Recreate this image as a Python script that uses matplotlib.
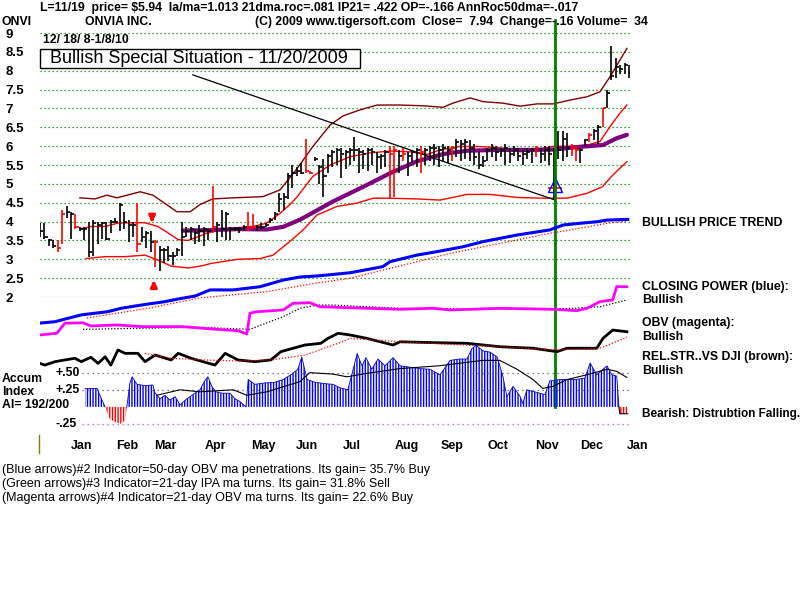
import numpy as np
import matplotlib
matplotlib.use('Agg')
import matplotlib.pyplot as plt
from matplotlib.transforms import blended_transform_factory
from matplotlib.patches import Rectangle
from matplotlib.lines import Line2D

plt.rcParams['font.family'] = ['Liberation Sans', 'DejaVu Sans']
plt.rcParams['hatch.linewidth'] = 1.0

# ---------------- price bars (one bar per two sessions) ----------------
hi = [3.95, 3.95, 3.55, 3.5, 3.5, 4.3, 4.4, 4.25, 4.2, 3.85,
      3.85, 4.0, 4.05, 4.0, 4.0, 4.0, 4.05, 4.1, 4.5, 4.25,
      4.05, 4.0, 4.5, 3.85, 3.75, 3.75, 3.5, 3.35, 3.3, 3.35,
      3.2, 3.3, 4.0, 3.85, 3.85, 3.8, 3.9, 3.85, 3.8, 4.95,
      4.0, 4.3, 4.25, 3.85, 3.85, 3.85, 3.9, 4.25, 4.2, 3.9,
      3.95, 3.95, 4.1, 4.25, 4.75, 4.75, 5.3, 5.5, 5.45, 5.55,
      6.2, 5.35, 5.7, 5.5, 5.65, 5.8, 5.9, 5.95, 5.95, 5.9,
      5.95, 6.25, 5.95, 5.9, 5.95, 5.95, 5.85, 5.8, 5.9, 6.0,
      6.0, 5.9, 5.95, 5.85, 5.9, 5.95, 6.0, 5.95, 6.0, 6.05,
      6.0, 6.05, 6.0, 6.0, 6.2, 6.15, 6.2, 6.15, 6.05, 5.85,
      5.75, 5.95, 6.05, 6.0, 5.95, 6.05, 5.95, 6.0, 5.95, 5.9,
      5.95, 5.95, 6.0, 5.95, 6.0, 6.0, 5.95, 6.4, 6.4, 6.35,
      6.05, 6.0, 5.95, 6.2, 6.35, 6.45, 6.55, 7.0, 7.5, 8.65,
      8.35, 8.15, 8.2, 8.15]
lo = [3.6, 3.55, 3.35, 3.3, 3.2, 3.4, 4.1, 3.55, 3.8, 3.75,
      3.5, 3.05, 3.1, 3.4, 3.55, 3.5, 3.7, 3.95, 3.75, 3.8,
      3.45, 3.6, 3.2, 3.45, 3.3, 3.2, 2.8, 2.68, 2.9, 2.95,
      2.85, 3.1, 3.1, 3.6, 3.5, 3.4, 3.45, 3.35, 3.5, 3.7,
      3.45, 3.6, 3.5, 3.5, 3.75, 3.7, 3.75, 3.75, 3.8, 3.75,
      3.8, 3.85, 3.95, 4.05, 4.25, 4.3, 4.6, 4.9, 5.2, 5.25,
      5.3, 5.25, 5.6, 5.0, 4.65, 5.3, 5.45, 5.5, 5.15, 5.4,
      5.5, 5.6, 5.3, 5.4, 5.35, 5.5, 5.3, 5.4, 5.45, 4.6,
      4.65, 5.3, 5.6, 5.2, 5.55, 5.45, 5.3, 5.5, 5.6, 5.5,
      5.45, 5.6, 5.55, 5.6, 5.7, 5.6, 5.65, 5.6, 5.5, 5.4,
      5.45, 5.6, 5.7, 5.6, 5.7, 5.5, 5.55, 5.75, 5.6, 5.5,
      5.65, 5.55, 5.7, 5.55, 5.6, 5.5, 4.57, 5.65, 5.6, 5.7,
      5.75, 5.6, 5.55, 6.0, 6.1, 6.15, 6.05, 6.5, 7.0, 7.75,
      7.8, 7.9, 7.9, 7.8]
cl = [3.75, 3.6, 3.5, 3.35, 3.3, 4.2, 4.25, 4.2, 3.85, 3.8,
      3.8, 3.2, 3.95, 3.9, 3.95, 3.55, 4.0, 4.0, 4.45, 4.0,
      3.9, 3.9, 3.4, 3.6, 3.7, 3.45, 3.45, 3.25, 3.25, 3.1,
      3.1, 3.25, 3.6, 3.75, 3.8, 3.7, 3.75, 3.8, 3.75, 3.85,
      3.9, 3.8, 4.2, 3.8, 3.8, 3.8, 3.85, 3.85, 3.85, 3.85,
      3.85, 3.9, 4.05, 4.2, 4.6, 4.65, 5.2, 5.3, 5.35, 5.3,
      5.35, 5.3, 5.65, 5.45, 5.2, 5.75, 5.85, 5.9, 5.8, 5.85,
      5.9, 5.9, 5.85, 5.8, 5.9, 5.85, 5.7, 5.75, 5.85, 5.8,
      5.9, 5.75, 5.8, 5.75, 5.85, 5.9, 5.85, 5.9, 5.95, 5.95,
      5.9, 5.95, 5.9, 5.95, 6.1, 6.05, 6.1, 5.95, 5.7, 5.5,
      5.6, 5.9, 5.95, 5.85, 5.9, 5.95, 5.8, 5.9, 5.75, 5.8,
      5.85, 5.9, 5.95, 5.8, 5.9, 5.8, 5.9, 5.9, 6.2, 5.95,
      5.95, 5.9, 5.9, 6.15, 6.3, 6.4, 6.5, 7.0, 7.4, 7.85,
      8.1, 8.05, 8.15, 7.94]
red_bars = [4, 5, 8, 22, 26, 39, 47, 48, 60, 61, 79, 80, 82, 86, 93, 112,
            120, 121, 124, 127]

# ---------------- bands / moving averages (bar-index, price) ----------------
upper_k = [9, 12.4, 15.1, 17.4, 22.6, 25.5, 28.7, 30.9, 33.9, 36.1, 39, 43.6,
           50.3, 54.2, 58, 61.6, 65.5, 68.4, 72.2, 76.1, 81.3, 86.5, 91, 93.2,
           97.1, 100, 104.5, 108.4, 112.2, 115.8, 119.6, 123.5, 126.4, 128.7,
           130.9, 132.5]
upper_v = [4.63, 4.6, 4.7, 4.63, 4.79, 4.7, 4.44, 4.26, 4.26, 4.45, 4.6, 4.63,
           4.66, 4.84, 5.4, 5.99, 6.56, 6.8, 6.96, 7.09, 7.09, 7.07, 7.03, 7.14,
           7.28, 7.18, 7.14, 7.06, 7.12, 7.12, 7.22, 7.31, 7.44, 7.84, 8.28, 8.59]
ma21_k = [9, 11.5, 14.7, 17.6, 21.4, 23.7, 26.6, 28.9, 31.2, 33.4, 35.7, 37.9,
          40.9, 44.7, 48.5, 51.2, 54.2, 56.4, 58, 61.6, 65.5, 70, 74.5, 79,
          83.5, 87.4, 90.3, 94.8, 99.3, 104.5, 108.4, 112.2, 115.8, 119.6,
          123.5, 126.4, 128.7, 130.9, 132.5]
ma21_v = [3.8, 3.87, 3.87, 3.96, 3.97, 3.97, 3.87, 3.7, 3.52, 3.5, 3.6, 3.7,
          3.8, 3.84, 3.88, 3.96, 4.22, 4.45, 4.65, 5.2, 5.5, 5.72, 5.82, 5.87,
          5.85, 5.78, 5.9, 5.99, 5.99, 5.95, 5.85, 5.92, 5.99, 6.0, 6.03, 6.12,
          6.52, 6.87, 7.09]
lower_k = [10.4, 14.7, 19.2, 23.7, 26.6, 29.6, 33.4, 36.3, 38.6, 44.7, 49.7,
           52.6, 56.4, 59.4, 62.5, 67, 71.6, 75.2, 79, 85.1, 90.3, 96.4, 101.6,
           107.7, 113.5, 119, 123.5, 126.9, 129.3, 132.5]
lower_v = [3.02, 3.07, 3.07, 3.11, 2.98, 2.82, 2.77, 2.82, 2.89, 3.0, 3.02,
           3.11, 3.47, 3.78, 4.17, 4.4, 4.49, 4.62, 4.62, 4.6, 4.57, 4.72, 4.72,
           4.64, 4.62, 4.62, 4.75, 4.92, 5.23, 5.59]
ma50_k = [32.3, 37.2, 44.7, 51.2, 54.9, 58.7, 66.1, 73.8, 79, 85.1, 91, 96.4,
          103.8, 111.3, 115.8, 121.9, 127.1, 130.2, 132.5]
ma50_v = [3.76, 3.77, 3.8, 3.79, 3.86, 4.05, 4.53, 4.97, 5.28, 5.6, 5.79, 5.88,
          5.9, 5.9, 5.91, 5.98, 6.03, 6.21, 6.3]
trend_k = [34.5, 116.3]
trend_v = [7.89, 4.57]
signal_k = 116.3          # 11/20/2009 signal
tri_price = 4.97
sell_arrow = (25.3, 4.17, 3.9)
buy_arrow = (25.7, 2.2, 2.52)

# ---------------- indicator lines (relative scale 0-100) ----------------
pt_k = [0, 3.4, 6.3, 9.3, 12.4, 15.3, 18.3, 21.4, 24.4, 28.2, 31.2, 35, 38.4,
        43.6, 49.7, 54.9, 58.7, 62.5, 70, 77.4, 79, 85.1, 89.6, 95.5, 100,
        107.7, 115.1, 118.1, 121.9, 125.7, 128, 132.7]
pt_v = [27.6, 28.4, 30.4, 32.4, 33.4, 34.3, 36.3, 37.6, 38.8, 40.2, 41.8, 43.5,
        47.1, 47.1, 49, 52.9, 54.7, 55.3, 57.2, 60.8, 63.7, 67.6, 69.6, 72.5,
        75.5, 79.4, 82.4, 85.3, 86.3, 87.2, 88.2, 88.6]
ptma_k = [10.6, 24.8, 36.1, 51.2, 62.5, 70, 77.4, 85.1, 92.6, 100, 107.7, 115.1,
          121.9, 128, 132.5]
ptma_v = [30.6, 36.5, 42.4, 46.1, 51.2, 53.9, 58.8, 63.7, 68.6, 72.5, 76.5,
          80.4, 83.4, 86.3, 87.6]
cp_k = [0, 3.8, 5.6, 9.7, 11.5, 17.4, 23.3, 32.3, 40, 44.7, 46.7, 47.4, 49,
        54.9, 57.1, 60.9, 63.2, 73.8, 81.3, 88.7, 92.6, 103.8, 115.8, 121.2,
        123.5, 126.4, 129.3, 130.2, 132.5]
cp_v = [20.6, 21.6, 27.5, 27.8, 25.9, 26.5, 25.5, 25.5, 23.9, 23.1, 21.2, 33.4,
        34.3, 35.3, 39.2, 39.6, 37.2, 36.3, 35.7, 36.3, 35.3, 36.3, 35.7, 34.9,
        36.3, 40.2, 41.2, 49, 49]
cpma_k = [9.7, 21, 36.1, 47.4, 54.9, 58.7, 62.5, 66.1, 81.3, 115.8, 126.4, 132.5]
cpma_v = [23.9, 24.5, 25.1, 23.9, 31.4, 36.3, 38.2, 38.2, 36.3, 35.7, 37.2, 41.2]
rs_k = [0, 1.1, 3.4, 5.6, 7.9, 9.3, 11.5, 13.1, 14.7, 16, 17.6, 19.2, 22.1,
        23.7, 26, 29.6, 31.2, 34.1, 39.5, 41.8, 44.7, 48.5, 52.1, 54.4, 59.8,
        63.4, 65, 67.3, 70, 73.8, 79.7, 81.3, 88.7, 96.4, 103.8, 111.3, 116.7,
        119, 125.7, 127.1, 129.3, 132.5]
rs_v = [3.9, 2.9, 4.9, 5.9, 6.9, 4.9, 7.5, 3.9, 7.8, 2.9, 11.8, 9.8, 9.8, 4.9,
        8.8, 5.9, 9.8, 6.9, 2.9, 9.8, 5.9, 4.9, 5.9, 10.8, 14.7, 15.7, 18.6,
        21.6, 20.6, 18.6, 14.7, 16.6, 16.1, 15.7, 13.7, 12.8, 10.8, 12.8, 12.8,
        18.6, 23.5, 22.5]
rsma_k = [23.7, 29.6, 37.2, 44.7, 52.1, 59.8, 67.3, 70, 81.3, 103.8, 116.7,
          126.4, 132.5]
rsma_v = [9.8, 6.9, 5.9, 5.3, 5.9, 8.8, 15.7, 18.6, 16.6, 13.7, 11.8, 12.8, 19.2]

# ---------------- accumulation index ----------------
ai_k = [10.2, 12.9, 13.5, 14.7, 15.8, 16.9, 18.1, 19.2, 19.6, 20.3, 20.8, 21.9,
        23.7, 25.5, 26, 27.1, 28.2, 29.3, 30.5, 31.6, 33.2, 35, 36.1, 37.2,
        37.9, 38.8, 39.7, 41.1, 42.9, 44, 45.1, 46.5, 47, 48.5, 50.8, 53, 54.9,
        56.9, 58.2, 59.1, 60.3, 62.1, 64.3, 66.1, 67.7, 69.5, 70.7, 71.6, 72.7,
        73.6, 74.9, 76.3, 77.9, 79.7, 81.3, 83.5, 85.8, 88, 90.3, 92.6, 94.8,
        96.4, 97.5, 98.4, 100, 101.6, 103.2, 104.5, 105.4, 106.8, 108.4, 109,
        109.9, 111.7, 114, 115.1, 117.4, 120.8, 123, 124.2, 125.7, 127.1, 128,
        129.1, 130.2, 130.7, 130.9, 132.7]
ai_v = [0.27, 0.27, 0.17, 0.0, -0.18, -0.22, -0.25, -0.2, 0.0, 0.35, 0.44, 0.33,
        0.31, 0.32, 0.2, 0.12, 0.17, 0.1, 0.15, 0.03, 0.12, 0.2, 0.25, 0.38,
        0.44, 0.3, 0.22, 0.2, 0.2, 0.12, 0.08, 0.0, 0.4, 0.33, 0.35, 0.36, 0.4,
        0.48, 0.55, 0.73, 0.4, 0.36, 0.34, 0.33, 0.28, 0.25, 0.55, 0.78, 0.6,
        0.72, 0.55, 0.7, 0.6, 0.72, 0.6, 0.58, 0.56, 0.55, 0.47, 0.68, 0.7,
        0.7, 0.85, 0.9, 0.82, 0.8, 0.73, 0.45, 0.15, 0.3, 0.15, 0.05, 0.25,
        0.22, 0.18, 0.38, 0.4, 0.4, 0.42, 0.64, 0.47, 0.55, 0.6, 0.47, 0.45,
        0.0, -0.1, -0.1]
aima_k = [26.4, 31.6, 36.1, 43.6, 46.7, 51.2, 58.7, 60.9, 66.1, 69.3, 73.8,
          81.3, 90, 100, 103.8, 107.7, 111.3, 113.5, 115.8, 119, 123.5, 128,
          130.2, 132.5]
aima_v = [0.17, 0.25, 0.22, 0.25, 0.17, 0.22, 0.37, 0.5, 0.48, 0.44, 0.49,
          0.56, 0.6, 0.68, 0.68, 0.55, 0.4, 0.27, 0.3, 0.4, 0.47, 0.55, 0.52,
          0.43]
ai_levels = [0.5, 0.25, -0.25]
ai_level_labels = ['+.50', '+.25', '-.25']

price_ticks = [9, 8.5, 8, 7.5, 7, 6.5, 6, 5.5, 5, 4.5, 4, 3.5, 3, 2.5, 2]
price_tick_labels = ['9', '8.5', '8', '7.5', '7', '6.5', '6', '5.5', '5', '4.5',
                     '4', '3.5', '3', '2.5', '2']
months = ['Jan', 'Feb', 'Mar', 'Apr', 'May', 'Jun', 'Jul', 'Aug', 'Sep', 'Oct',
          'Nov', 'Dec', 'Jan']
month_pos = [9.5, 19.6, 28.4, 39.7, 50.4, 60.3, 70.4, 82.8, 93.0, 103.4,
             114.5, 124.6, 134.9]

# ---------------- layout ----------------
W, H = 800, 600
fig = plt.figure(figsize=(8, 6), dpi=100)
fig.patch.set_facecolor('white')


def rect(top, bottom, left=40, right=630):
    return [left / W, 1 - bottom / H, (right - left) / W, (bottom - top) / H]


def ftext(x, y, s, **kw):
    fig.text(x / W, 1 - y / H, s, va='center', ha='left', **kw)


XMAX = 133.2
ax = fig.add_axes(rect(33, 297))
ax.set_xlim(0, XMAX)
ax.set_ylim(2, 9)
ax.patch.set_alpha(0)
for s in ax.spines.values():
    s.set_visible(False)
ax.set_xticks([])
ax.set_yticks(price_ticks)
ax.set_yticklabels(price_tick_labels, fontsize=9.5, fontweight='bold')
ax.tick_params(axis='y', length=0, pad=25)
for lbl in ax.get_yticklabels():
    lbl.set_ha('left')
ax.yaxis.grid(True, color='#008000', linestyle=(0, (1, 2.2)), linewidth=0.9)

ind = fig.add_axes(rect(200, 370))
ind.set_xlim(0, XMAX)
ind.set_ylim(0, 100)
ind.axis('off')

acc = fig.add_axes(rect(330, 430))
acc.set_xlim(0, XMAX)
acc.set_ylim(-0.338, 1.124)
acc.axis('off')

# indicator lines
ind.plot(ptma_k, ptma_v, color='red', lw=0.9, ls=(0, (1, 1.5)))
ind.plot(pt_k, pt_v, color='#0000ff', lw=2.2)
ind.plot(cpma_k, cpma_v, color='black', lw=0.9, ls=(0, (1, 1.5)))
ind.plot(cp_k, cp_v, color='#ff00ff', lw=2.0)
ind.plot(rs_k, rs_v, color='black', lw=2.0)
ind.plot(rsma_k, rsma_v, color='red', lw=0.9, ls=(0, (1, 1.5)))

# accumulation index
ai_k_a = np.array(ai_k)
ai_v_a = np.array(ai_v)
for lev, lab in zip(ai_levels, ai_level_labels):
    col = '#cc44cc' if lev < 0 else '#555555'
    acc.hlines(lev, 9.5, XMAX, colors=col, linestyles=(0, (1, 3)), lw=0.9)
    acc.text(3.4, lev, lab, fontsize=8.8, fontweight='bold', va='center', ha='left')
acc.fill_between(ai_k_a, 0, ai_v_a, where=ai_v_a >= 0, interpolate=True,
                 facecolor='none', edgecolor='#0000ff', hatch='||||||', linewidth=0)
acc.fill_between(ai_k_a, 0, ai_v_a, where=ai_v_a <= 0, interpolate=True,
                 facecolor='none', edgecolor='red', hatch='||||||', linewidth=0)
acc.plot(ai_k_a, np.where(ai_v_a >= 0, ai_v_a, np.nan), color='#0000cc', lw=0.6)
acc.plot(aima_k, aima_v, color='black', lw=0.8)
acc.plot(ai_k[-3:], ai_v[-3:], color='black', lw=0.8)

# price bands
ax.plot(upper_k, upper_v, color='#800000', lw=1.0)
ax.plot(lower_k, lower_v, color='red', lw=1.0)
ax.plot(ma21_k, ma21_v, color='red', lw=1.0)
ax.plot(ma50_k, ma50_v, color='#800080', lw=3.0, solid_capstyle='round')
ax.plot(trend_k, trend_v, color='black', lw=0.9)

# price bars
k = np.arange(len(hi))
colors = ['red' if i in red_bars else 'black' for i in k]
ax.vlines(k, lo, hi, colors=colors, lw=1.2)
ax.hlines(cl, k, k + 0.7, colors=colors, lw=1.2)

# arrows
ax.annotate('', xy=(sell_arrow[0], sell_arrow[2]), xytext=(sell_arrow[0], sell_arrow[1]),
            arrowprops=dict(arrowstyle='-|>', color='red', lw=2.2, mutation_scale=9))
ax.annotate('', xy=(buy_arrow[0], buy_arrow[2]), xytext=(buy_arrow[0], buy_arrow[1]),
            arrowprops=dict(arrowstyle='-|>', color='red', lw=2.2, mutation_scale=9))

# signal marker and vertical line
ax.hlines(tri_price - 0.09, signal_k - 1.6, signal_k + 1.6, colors='red', lw=1.2)
ax.plot([signal_k], [tri_price], marker='^', ms=10, mfc='none', mec='#0000ff', mew=1.0)
tr = blended_transform_factory(ax.transData, fig.transFigure)
ax.add_line(Line2D([signal_k, signal_k], [1 - 20 / H, 1 - 407 / H], transform=tr,
                   color='#008000', lw=2.0, clip_on=False))

# month labels
for m, p in zip(months, month_pos):
    ax.text(p, 1 - 446 / H, m, transform=tr, ha='center', va='center',
            fontsize=9, fontweight='bold', clip_on=False)
fig.add_artist(Line2D([39 / W, 39 / W], [1 - 435 / H, 1 - 453 / H], color='#808000', lw=1))

# header texts
B = dict(fontsize=8.8, fontweight='bold')
ftext(40, 8, 'L=11/19  price= $5.94  la/ma=1.013 21dma.roc=.081 IP21= .422 OP=-.166 AnnRoc50dma=-.017', **B)
ftext(2, 22, 'ONVI', **B)
ftext(85, 22, 'ONVIA INC.', **B)
ftext(255, 22, '(C) 2009 www.tigersoft.com', **B)
ftext(422, 22, 'Close=  7.94  Change=-.16 Volume=  34', **B)
ftext(43, 40, '12/ 18/ 8-1/8/10', **B)
fig.add_artist(Rectangle((40 / W, 1 - 68 / H), 320 / W, 19 / H, transform=fig.transFigure,
                         facecolor='white', edgecolor='black', lw=1.0, zorder=5))
fig.text(50 / W, 1 - 58.5 / H, 'Bullish Special Situation - 11/20/2009', fontsize=13,
         va='center', ha='left', zorder=6)

# right side labels
R = dict(fontsize=8.8, fontweight='bold')
ftext(642, 223, 'BULLISH PRICE TREND', **R)
ftext(642, 287, 'CLOSING POWER (blue):', **R)
ftext(642, 300, 'Bullish', **R)
ftext(642, 323, 'OBV (magenta):', **R)
ftext(642, 337, 'Bullish', **R)
ftext(642, 357, 'REL.STR..VS DJI (brown):', **R)
ftext(642, 371, 'Bullish', **R)
ftext(642, 414, 'Bearish: Distrubtion Falling.', fontsize=8.5, fontweight='bold')

ftext(2, 379, 'Accum', **R)
ftext(2, 392, 'Index', **R)
ftext(2, 405, 'AI= 192/200', **R)

N = dict(fontsize=9)
ftext(2, 470, '(Blue arrows)#2 Indicator=50-day OBV ma penetrations. Its gain= 35.7% Buy', **N)
ftext(2, 484, '(Green arrows)#3 Indicator=21-day IPA ma turns. Its gain= 31.8% Sell', **N)
ftext(2, 498, '(Magenta arrows)#4 Indicator=21-day OBV ma turns. Its gain= 22.6% Buy', **N)

fig.savefig('out.png', dpi=100)
